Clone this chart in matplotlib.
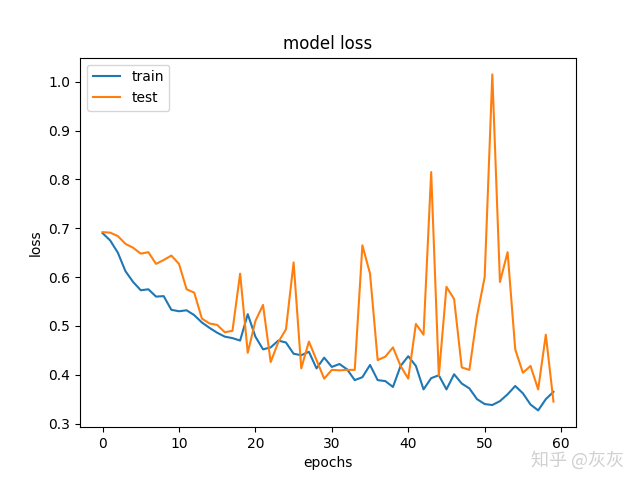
import matplotlib
matplotlib.use('Agg')
import matplotlib.pyplot as plt

train_loss = [0.690, 0.675, 0.650, 0.612, 0.590, 0.573, 0.575, 0.560, 0.561, 0.533,
              0.530, 0.532, 0.522, 0.507, 0.496, 0.486, 0.478, 0.475, 0.470, 0.524,
              0.478, 0.452, 0.456, 0.470, 0.466, 0.443, 0.440, 0.447, 0.413, 0.435,
              0.416, 0.422, 0.411, 0.389, 0.395, 0.420, 0.389, 0.387, 0.375, 0.418,
              0.438, 0.418, 0.370, 0.393, 0.399, 0.370, 0.401, 0.382, 0.372, 0.350,
              0.340, 0.338, 0.346, 0.360, 0.377, 0.362, 0.339, 0.327, 0.350, 0.365]
test_loss = [0.692, 0.691, 0.684, 0.668, 0.660, 0.648, 0.651, 0.627, 0.635, 0.644,
             0.627, 0.575, 0.568, 0.515, 0.505, 0.502, 0.487, 0.490, 0.607, 0.445,
             0.510, 0.543, 0.426, 0.467, 0.493, 0.630, 0.413, 0.468, 0.430, 0.392,
             0.410, 0.409, 0.410, 0.410, 0.665, 0.607, 0.430, 0.437, 0.456, 0.418,
             0.392, 0.504, 0.482, 0.815, 0.398, 0.580, 0.555, 0.415, 0.410, 0.520,
             0.600, 1.015, 0.590, 0.651, 0.452, 0.404, 0.418, 0.370, 0.482, 0.345]

fig = plt.figure(figsize=(6.4, 4.8), dpi=100)
plt.plot(train_loss)
plt.plot(test_loss)
plt.title('model loss')
plt.ylabel('loss')
plt.xlabel('epochs')
plt.legend(['train', 'test'], loc='upper left')
fig.text(0.975, 0.04, '知乎 @灰灰', ha='right', va='center', fontsize=13,
         color='#d0d0d0', family=['Noto Sans CJK SC', 'DejaVu Sans'])
plt.savefig('out.png')
